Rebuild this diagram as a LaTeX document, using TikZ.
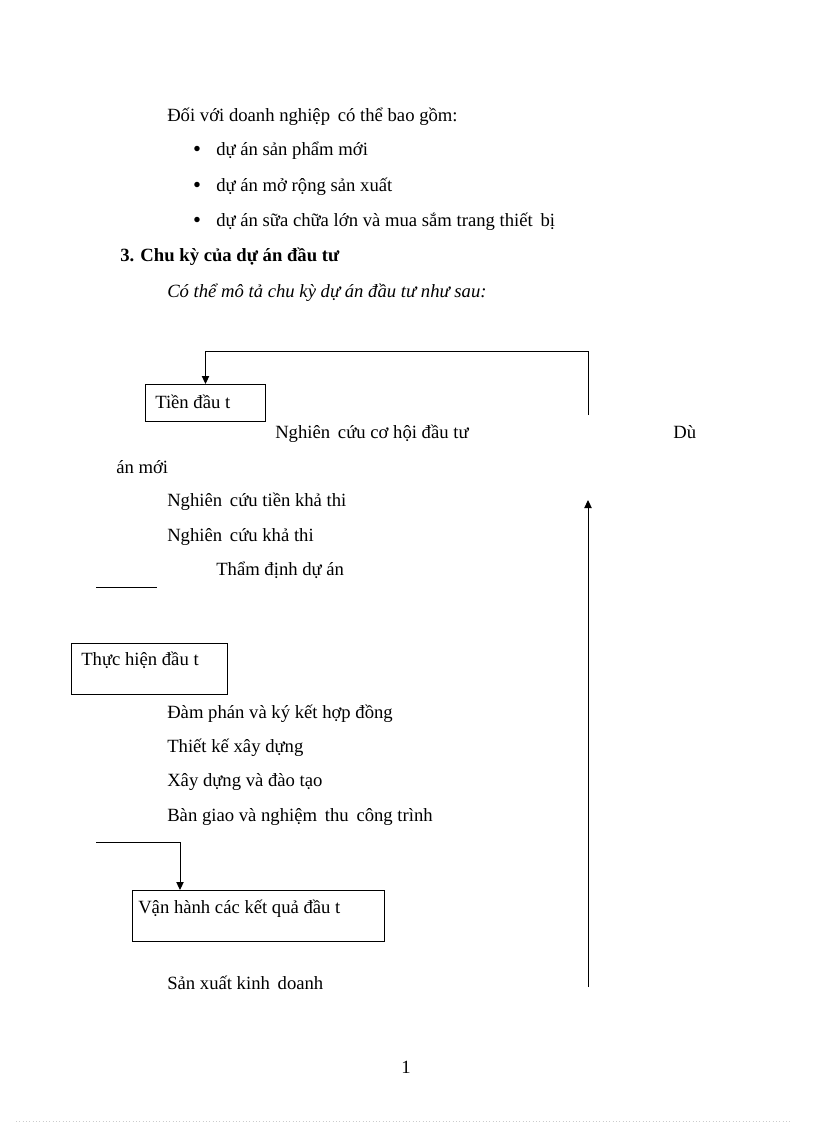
\documentclass[tikz,border=0pt]{standalone}
\usepackage{fontspec}
\setmainfont{Liberation Serif}
\usetikzlibrary{arrows.meta}
\begin{document}
\begin{tikzpicture}[x=0.75pt,y=-0.75pt,
  txt/.style={anchor=base west,inner sep=0pt,font=\fontsize{14}{16}\selectfont},
  bul/.style={anchor=base,inner sep=0pt,font=\fontsize{17}{19}\selectfont},
  pgn/.style={anchor=base,inner sep=0pt,font=\fontsize{14}{16}\selectfont},
  boxn/.style={draw,line width=0.75pt,anchor=north west,inner sep=0pt},
  conn/.style={line width=0.75pt},
  arr/.style={line width=0.75pt,-{Triangle[length=6pt,width=5.5pt]}}]
\useasboundingbox (0,0) rectangle (816,1123);
\fill[white] (0,0) rectangle (816,1123);

% intro text
\node[txt] (intro) at (167,122) {Đối với doanh nghiệp\, có thể bao gồm:};
\node[bul] (b1) at (197,157) {•};
\node[txt] (i1) at (216,156) {dự án sản phẩm mới};
\node[bul] (b2) at (197,193) {•};
\node[txt] (i2) at (216,192) {dự án mở rộng sản xuất};
\node[bul] (b3) at (197,228) {•};
\node[txt] (i3) at (216,227) {dự án sữa chữa lớn và mua sắm trang thiết\, bị};
\node[txt,font=\fontsize{14}{16}\selectfont\bfseries] (h3) at (120,262) {3. Chu kỳ của dự án đầu tư};
\node[txt,font=\fontsize{14}{16}\selectfont\itshape] (desc) at (167,297) {Có thể mô tả chu kỳ dự án đầu tư như sau:};

% boxes
\node[boxn,minimum width=90pt,minimum height=27.75pt] (box1) at (145,384) {};
\node[txt] (t1) at (155,408) {Tiền đầu t};
\node[boxn,minimum width=117pt,minimum height=38.25pt] (box2) at (71,643) {};
\node[txt] (t2) at (81,665) {Thực hiện đầu t};
\node[boxn,minimum width=189pt,minimum height=38.25pt] (box3) at (132,890) {};
\node[txt] (t3) at (138,913) {Vận hành các kết quả đầu t};

% stage texts
\node[txt] (s1) at (275,438) {Nghiên\, cứu cơ hội đầu tư};
\node[txt] (s1b) at (673,438) {Dù};
\node[txt] (s1c) at (116,473) {án mới};
\node[txt] (s2) at (167,506) {Nghiên\, cứu tiền khả thi};
\node[txt] (s3) at (167,541) {Nghiên\, cứu khả thi};
\node[txt] (s4) at (216,575) {Thẩm định dự án};
\node[txt] (s5) at (167,718) {Đàm phán và ký kết hợp đồng};
\node[txt] (s6) at (167,752) {Thiết kế xây dựng};
\node[txt] (s7) at (167,786) {Xây dựng và đào tạo};
\node[txt] (s8) at (167,821) {Bàn giao và nghiệm\, thu\, công trình};
\node[txt] (s9) at (167,989) {Sản xuất kinh\, doanh};
\node[pgn] (pg) at (406,1073) {1};

% connectors
\coordinate (r1) at (588,415);
\coordinate (rtop) at (588,351);
\draw[arr] (r1) -- (rtop) -| (box1.north);

\coordinate (up1) at (588,987);
\coordinate (up2) at (588,500);
\draw[arr] (up1) -- (up2);

\coordinate (u1) at (96,587);
\coordinate (u2) at (157,587);
\draw[conn] (u1) -- (u2);

\coordinate (c1) at (96,842);
\coordinate (c2) at (180,842);
\draw[arr] (c1) -- (c2) -- (c2 |- box3.north);

% page edge
\coordinate (e1) at (16,1121);
\coordinate (e2) at (792,1121);
\draw[gray!40,dotted,line width=0.5pt] (e1) -- (e2);
\end{tikzpicture}
\end{document}
